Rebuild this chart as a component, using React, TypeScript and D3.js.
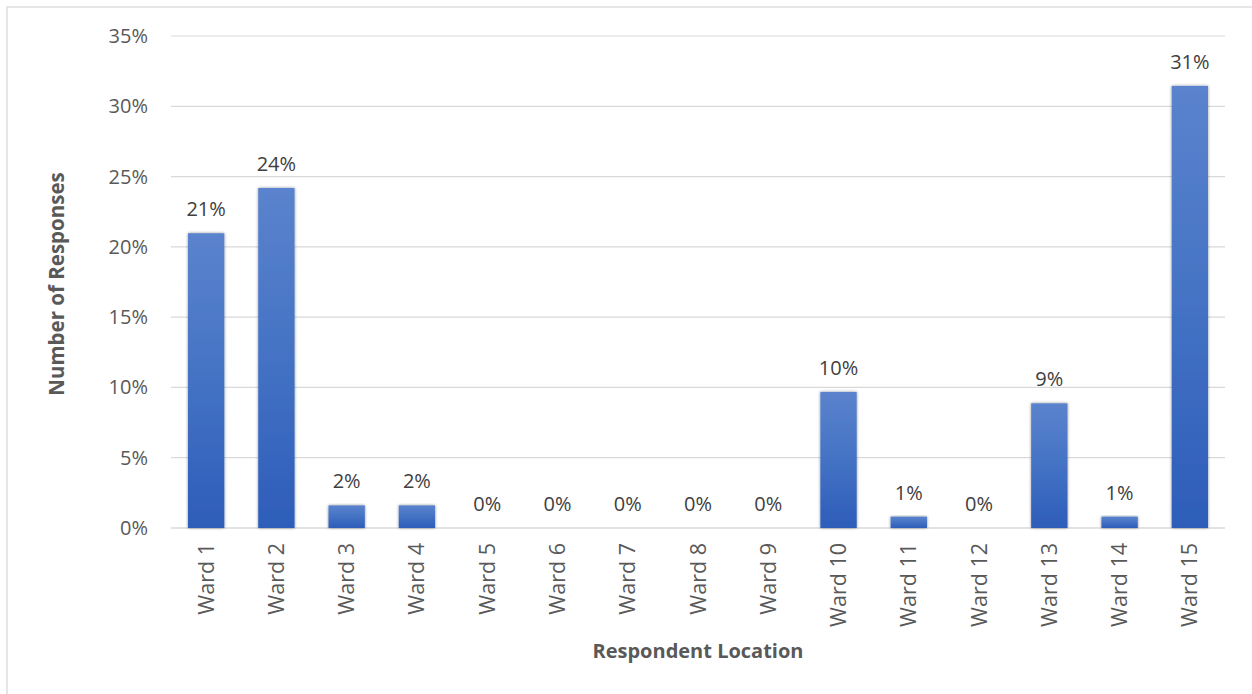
import React from "react";
import * as d3 from "d3";

const categories = ["Ward 1","Ward 2","Ward 3","Ward 4","Ward 5","Ward 6","Ward 7","Ward 8","Ward 9","Ward 10","Ward 11","Ward 12","Ward 13","Ward 14","Ward 15"];
const values = [0.2097, 0.2419, 0.0161, 0.0161, 0, 0, 0, 0, 0, 0.0968, 0.0081, 0, 0.0887, 0.0081, 0.3145];
const yTicks = [0, 0.05, 0.1, 0.15, 0.2, 0.25, 0.3, 0.35];

const W = 1252, H = 694;
const FONT = "'Open Sans', 'Noto Sans', sans-serif";

export default function App() {
  const x = d3.scaleBand<string>().domain(categories).range([171, 1225]).paddingInner(0.483).paddingOuter(0.2415);
  const y = d3.scaleLinear().domain([0, 0.35]).range([528, 36]);
  const fmt = d3.format(".0%");
  return (
    <svg width={W} height={H} style={{ position: "fixed", left: 0, top: 0 }}>
      <defs>
        <linearGradient id="barGrad" x1="0" y1="0" x2="0" y2="1">
          <stop offset="0%" stopColor="#5b83cd" />
          <stop offset="50%" stopColor="#4472c4" />
          <stop offset="100%" stopColor="#2d5db9" />
        </linearGradient>
        <filter id="shadow" x="-30%" y="-10%" width="160%" height="120%">
          <feGaussianBlur in="SourceAlpha" stdDeviation="1.6" />
          <feOffset dx="0" dy="0" result="b" />
          <feComponentTransfer><feFuncA type="linear" slope="0.45" /></feComponentTransfer>
          <feMerge><feMergeNode /><feMergeNode in="SourceGraphic" /></feMerge>
        </filter>
      </defs>
      <rect x={0} y={0} width={W} height={H} fill="#fff" />
      <rect x={7} y={7} width={W + 10} height={H + 10} fill="none" stroke="#d9d9d9" strokeWidth={1.3} />
      {yTicks.map((t) => (
        <g key={t}>
          <line x1={171} x2={1225} y1={y(t)} y2={y(t)} stroke="#d9d9d9" strokeWidth={t === 0 ? 1.5 : 1.2} />
          <text x={148} y={y(t)} dy="0.35em" textAnchor="end" fontFamily={FONT} fontSize={20} fill="#595959">{fmt(t)}</text>
        </g>
      ))}
      {categories.map((c, i) => {
        const v = values[i];
        const bx = x(c)!;
        const cx = bx + x.bandwidth() / 2;
        return (
          <g key={c}>
            {v > 0 && (
              <rect x={bx} y={y(v)} width={x.bandwidth()} height={y(0) - y(v)} fill="url(#barGrad)" filter="url(#shadow)" />
            )}
            <text x={cx} y={y(v) - 17} textAnchor="middle" fontFamily={FONT} fontSize={20} fill="#404040">{fmt(v)}</text>
            <text transform={`translate(${cx},543) rotate(-90)`} dy="0.35em" textAnchor="end" fontFamily={FONT} fontSize={21.5} fill="#595959">{c}</text>
          </g>
        );
      })}
      <text transform={`translate(57,284) rotate(-90)`} dy="0.35em" textAnchor="middle" fontFamily={FONT} fontSize={20.5} fontWeight="bold" fill="#595959">Number of Responses</text>
      <text x={698} y={651} dy="0.35em" textAnchor="middle" fontFamily={FONT} fontSize={20} fontWeight="bold" fill="#595959">Respondent Location</text>
    </svg>
  );
}
